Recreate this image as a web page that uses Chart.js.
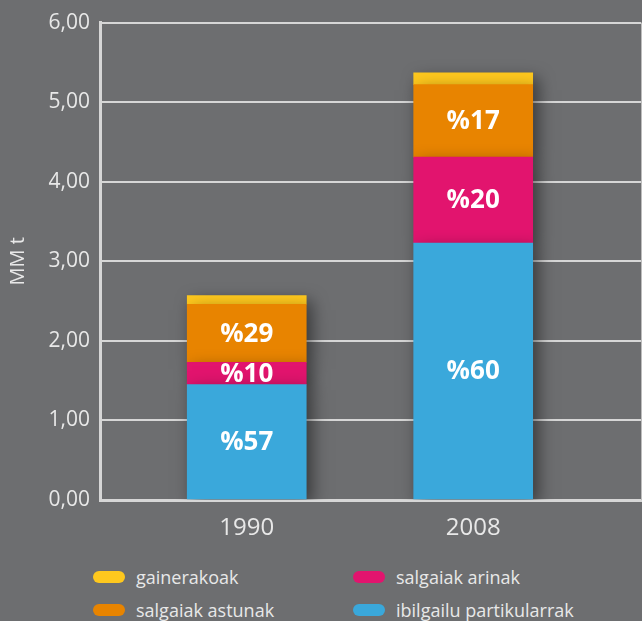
<!DOCTYPE html>
<html>
<head>
<meta charset="utf-8">
<script src="https://cdn.jsdelivr.net/npm/chart.js@4"></script>
<style>
  html, body { margin: 0; padding: 0; background: #6d6e70; }
  #wrap { position: relative; width: 642px; height: 621px; overflow: hidden; }
  #box { position: absolute; left: 0; top: 0; width: 642px; height: 548px; }
  #legend { position: absolute; left: 93px; top: 565px; width: 540px; font-family: "Open Sans", sans-serif;
            font-size: 18px; color: #e8e8e8; display: grid; grid-template-columns: 260px 280px; row-gap: 9px; }
  #legend div { display: flex; align-items: center; height: 24px; }
  #legend span.sw { display: inline-block; width: 32px; height: 12px; border-radius: 6px; margin-right: 11px; }
</style>
</head>
<body>
<div id="wrap">
  <div id="box"><canvas id="emissions"></canvas></div>
  <div id="legend"></div>
</div>
<script>
// data (MM t)
const years = ["1990", "2008"];
const ibilgailu = [1.45, 3.23];
const arinak = [0.28, 1.08];
const astunak = [0.73, 0.91];
const gainerakoak = [0.11, 0.15];
const pctIbilgailu = ["%57", "%60"];
const pctArinak = ["%10", "%20"];
const pctAstunak = ["%29", "%17"];
const yTicks = [0, 1, 2, 3, 4, 5, 6];

const txt = "#e8e8e8";
const lines = "#d6d6d6";

function pts(arr) {
    return arr.map((v, i) => ({ x: i, y: v }));
}

// labels inside the bar pieces
const pctLabels = {
    id: "pctLabels",
    afterDatasetsDraw(chart) {
        const ctx = chart.ctx;
        ctx.save();
        ctx.fillStyle = "#ffffff";
        ctx.font = "bold 26px 'Open Sans', sans-serif";
        ctx.textAlign = "center";
        ctx.textBaseline = "middle";
        chart.data.datasets.forEach((ds, di) => {
            if (!ds.pct) return;
            chart.getDatasetMeta(di).data.forEach((bar, i) => {
                const mid = (bar.y + bar.base) / 2;
                ctx.fillText(ds.pct[i], bar.x, mid + 1);
            });
        });
        ctx.restore();
    }
};

// soft shadow behind the pieces, like the original
const barShadow = {
    id: "barShadow",
    beforeDatasetsDraw(chart) {
        const ctx = chart.ctx;
        const a = chart.chartArea;
        ctx.save();
        ctx.strokeStyle = "#bdbdbd";
        ctx.lineWidth = 1;
        ctx.beginPath();
        ctx.moveTo(a.right + 0.5, a.top);
        ctx.lineTo(a.right + 0.5, a.bottom);
        ctx.stroke();
        ctx.restore();
    },
    beforeDatasetDraw(chart) {
        const ctx = chart.ctx;
        ctx.save();
        ctx.shadowColor = "rgba(0,0,0,0.5)";
        ctx.shadowBlur = 16;
        ctx.shadowOffsetX = 5;
        ctx.shadowOffsetY = 6;
    },
    afterDatasetDraw(chart) {
        chart.ctx.restore();
    }
};

const chart = new Chart("emissions", {
    type: "bar",
    data: {
        datasets: [
            { label: "ibilgailu partikularrak", data: pts(ibilgailu), backgroundColor: "#3aa8db", pct: pctIbilgailu },
            { label: "salgaiak arinak", data: pts(arinak), backgroundColor: "#e2146e", pct: pctArinak },
            { label: "salgaiak astunak", data: pts(astunak), backgroundColor: "#e88400", pct: pctAstunak },
            { label: "gainerakoak", data: pts(gainerakoak), backgroundColor: "#fec81e" }
        ]
    },
    options: {
        responsive: true,
        maintainAspectRatio: false,
        animation: false,
        layout: { padding: { top: 20, right: 1, left: 0, bottom: 0 } },
        datasets: { bar: { barThickness: 119, borderWidth: 0 } },
        plugins: {
            legend: { display: false },
            tooltip: { enabled: false }
        },
        scales: {
            x: {
                type: "linear",
                offset: false,
                stacked: true,
                min: -0.648,
                max: 1.741,
                afterBuildTicks: s => { s.ticks = years.map((y, i) => ({ value: i })); },
                afterFit: s => { s.height = 48; },
                ticks: {
                    color: txt,
                    font: { family: "'Open Sans', sans-serif", size: 24 },
                    padding: 6,
                    callback: v => years[v]
                },
                grid: { display: false },
                border: { color: lines, width: 3 }
            },
            y: {
                stacked: true,
                min: 0,
                max: 6,
                afterBuildTicks: s => { s.ticks = yTicks.map(v => ({ value: v })); },
                afterFit: s => { s.width = 100; },
                ticks: {
                    color: txt,
                    font: { family: "'Open Sans', sans-serif", size: 21 },
                    padding: 10,
                    callback: v => v.toFixed(2).replace(".", ",")
                },
                grid: { color: lines, lineWidth: 2, drawTicks: false },
                border: { color: lines, width: 3 },
                title: {
                    display: true,
                    text: "MM t",
                    color: txt,
                    font: { family: "'Open Sans', sans-serif", size: 20 },
                    padding: { top: 6, bottom: 0 }
                }
            }
        }
    },
    plugins: [barShadow, pctLabels]
});

// legend in two columns, the same order as the original
const order = [3, 1, 2, 0];
const legend = document.getElementById("legend");
order.forEach(di => {
    const ds = chart.data.datasets[di];
    const item = document.createElement("div");
    item.innerHTML = '<span class="sw" style="background:' + ds.backgroundColor + '"></span>' + ds.label;
    legend.appendChild(item);
});
</script>
</body>
</html>
